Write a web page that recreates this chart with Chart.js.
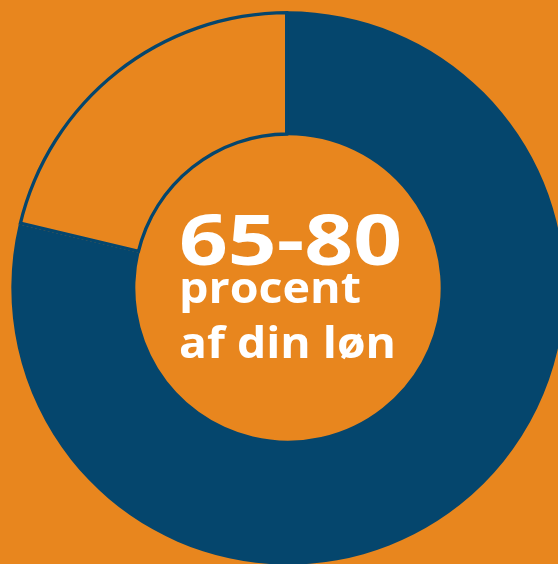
<!DOCTYPE html>
<html>
<head>
<meta charset="utf-8">
<script src="https://cdn.jsdelivr.net/npm/chart.js@4"></script>
<style>
  html, body { margin:0; padding:0; width:558px; height:564px; overflow:hidden; background:#E8861E; }
  #wrap { position:absolute; left:11px; top:11px; width:554px; height:554px; }
</style>
</head>
<body>
<div id="wrap"><canvas id="c"></canvas></div>
<script>
const categories = ["Udbetaling", "Resten"];
const shares = [78.7, 21.3];
const headline = "65-80";
const subLines = ["procent", "af din løn"];

const BLUE = "#05466D";
const ORANGE = "#E8861E";

const centerText = {
  id: "centerText",
  afterDraw(chart) {
    const meta = chart.getDatasetMeta(0);
    const arc = meta.data[0];
    const cx = arc.x, cy = arc.y;
    const ctx = chart.ctx;
    ctx.save();
    ctx.fillStyle = "#ffffff";
    ctx.textAlign = "left";
    ctx.textBaseline = "alphabetic";
    const lines = [
      { t: headline, font: "bold 70px 'Open Sans'", dy: -23, w: 223 },
      { t: subLines[0], font: "bold 43px 'Open Sans'", dy: 15, w: 182 },
      { t: subLines[1], font: "bold 43px 'Open Sans'", dy: 70, w: 217 }
    ];
    const left = cx - 109;
    lines.forEach(l => {
      ctx.font = l.font;
      const m = ctx.measureText(l.t).width;
      ctx.save();
      ctx.translate(left, cy + l.dy);
      ctx.scale(l.w / m, 1);
      ctx.fillText(l.t, 0, 0);
      ctx.restore();
    });
    ctx.restore();
  }
};

new Chart(document.getElementById("c"), {
  type: "doughnut",
  data: {
    labels: categories,
    datasets: [{
      data: shares,
      backgroundColor: [BLUE, ORANGE],
      borderColor: [BLUE, BLUE],
      borderWidth: [0, 3],
      borderAlign: "inner"
    }]
  },
  options: {
    responsive: true,
    maintainAspectRatio: false,
    animation: false,
    cutout: "55%",
    layout: { padding: 0 },
    plugins: { legend: { display: false }, tooltip: { enabled: false } }
  },
  plugins: [centerText]
});
</script>
</body>
</html>
